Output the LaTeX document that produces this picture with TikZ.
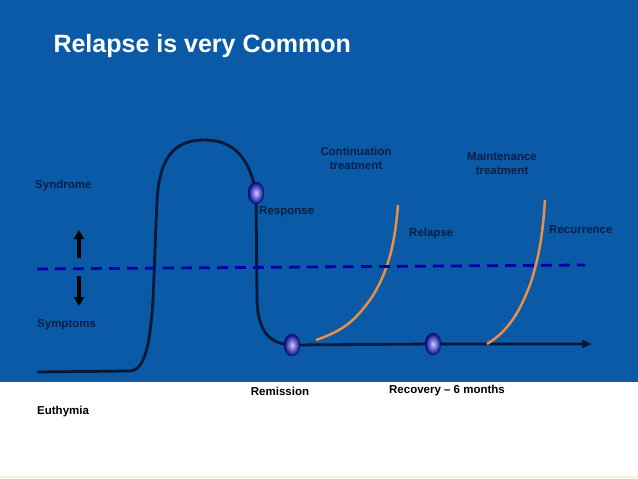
\documentclass[tikz,border=0pt]{standalone}
\usepackage{fontspec}
\setmainfont{Liberation Sans}
\usetikzlibrary{arrows.meta,shapes.geometric}
\definecolor{bg}{HTML}{0A5AA8}
\definecolor{navy}{HTML}{0B1E45}
\definecolor{orng}{HTML}{E8904A}
\tikzset{x=1pt,y=-1pt,
 lbl/.style={font=\bfseries\fontsize{11.5}{14}\selectfont,text=navy,inner sep=0pt,align=center},
 wlbl/.style={font=\bfseries\fontsize{11.5}{14}\selectfont,text=black,inner sep=0pt},
 dot/.style={ellipse,draw=navy,thin,minimum width=16pt,minimum height=22pt,inner sep=0pt,shading=radial,inner color=blue!20!white,outer color=blue!55!black},
 curve/.style={line width=2.8pt,draw=navy!80!black},
 ocurve/.style={line width=2.5pt,draw=orng}}
\begin{document}
\begin{tikzpicture}
\useasboundingbox (0,0) rectangle (638,479);
\fill[bg] (0,0) rectangle (638,382);
\draw[orange!15,line width=1.5pt] (0,477) -- (638,477);
\node[anchor=west,font=\bfseries\fontsize{25}{30}\selectfont,text=white] (title) at (50,46) {Relapse is very Common};
\draw[curve] (37,372) -- (130,371) .. controls (145,370) and (150,345) .. (153,300) -- (157,200) .. controls (160,150) and (180,140) .. (205,140) .. controls (235,140) and (250,160) .. (256,193) -- (257,300) .. controls (258,330) and (268,343) .. (290,345);
\coordinate (e) at (592,344);
\node[dot] (rem) at (292,345) {};
\node[dot] (rec) at (433,344) {};
\node[dot] (resp) at (256,193) {};
\draw[curve,-{Triangle[length=10pt,width=8pt]}] (rem) -- (rec) -- (e);
\draw[ocurve] (316,340) .. controls (345,330) and (355,320) .. (370,300) .. controls (390,270) and (395,240) .. (398,205);
\draw[ocurve] (487,344) .. controls (510,330) and (520,310) .. (530,285) .. controls (540,255) and (543,230) .. (545,200);
\draw[line width=2.8pt,draw=blue!65!black,dash pattern=on 11pt off 7pt] (37,269) -- (585,265);
\coordinate (a1) at (79,258); \coordinate (a2) at (79,230);
\coordinate (b1) at (79,276); \coordinate (b2) at (79,306);
\draw[line width=4pt,-{Triangle[length=9pt,width=10pt]}] (a1) -- (a2);
\draw[line width=4pt,-{Triangle[length=9pt,width=10pt]}] (b1) -- (b2);
\node[lbl,anchor=west] (syn) at (35,186) {Syndrome};
\node[lbl,anchor=west] (sym) at (37,325) {Symptoms};
\node[lbl,anchor=west] (rsp) at (259,212) {Response};
\node[lbl] (ct) at (356,158) {Continuation\\treatment};
\node[lbl] (mt) at (502,163) {Maintenance\\treatment};
\node[lbl,anchor=west] (rl) at (409,234) {Relapse};
\node[lbl,anchor=west] (rc) at (549,230) {Recurrence};
\node[wlbl] (rm) at (280,391) {Remission};
\node[wlbl] (rv) at (447,391) {Recovery -- 6 months};
\node[wlbl,anchor=west] (eu) at (37,412) {Euthymia};
\end{tikzpicture}
\end{document}
